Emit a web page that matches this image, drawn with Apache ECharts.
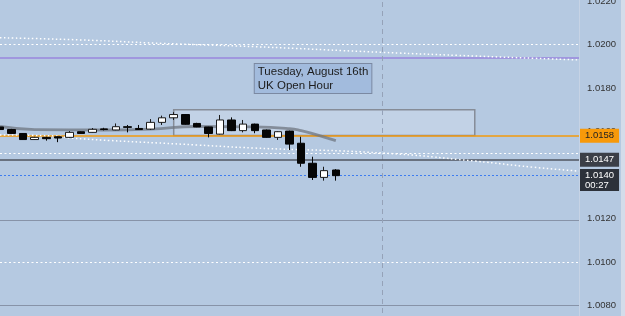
<!DOCTYPE html>
<html>
<head>
<meta charset="utf-8">
<script src="https://cdn.jsdelivr.net/npm/echarts@6/dist/echarts.min.js"></script>
<style>
  html, body { margin: 0; padding: 0; background: #b5c9e1; }
  #chart { width: 625px; height: 316px; }
</style>
</head>
<body>
<div id="chart"></div>
<script>
  // slots on the (hidden) time axis, candles fill the first 30
  const categories = Array.from({ length: 51 }, (_, i) => 'bar' + i);

  const candleOpen = [1.01621, 1.01609, 1.01591, 1.01563, 1.01573, 1.01576, 1.01573, 1.01599, 1.01596, 1.01612,
    1.01607, 1.01622, 1.01614, 1.01611, 1.01642, 1.01663, 1.01678, 1.01637, 1.01621, 1.01588,
    1.01653, 1.01604, 1.01634, 1.01607, 1.01573, 1.01602, 1.01546, 1.01454, 1.01389, 1.01423];
  const candleClose = [1.01609, 1.01591, 1.01563, 1.01573, 1.01567, 1.01570, 1.01596, 1.01591, 1.01610, 1.01609,
    1.01622, 1.01619, 1.01609, 1.01642, 1.01663, 1.01678, 1.01633, 1.01621, 1.01591, 1.01653,
    1.01604, 1.01634, 1.01604, 1.01573, 1.01599, 1.01542, 1.01454, 1.01389, 1.01420, 1.01397];
  const candleLow = [1.01605, 1.01589, 1.01561, 1.01561, 1.01558, 1.01551, 1.01571, 1.01589, 1.01595, 1.01605,
    1.01606, 1.01596, 1.01608, 1.01607, 1.01630, 1.01653, 1.01631, 1.01620, 1.01573, 1.01586,
    1.01602, 1.01596, 1.01592, 1.01571, 1.01561, 1.01515, 1.01438, 1.01377, 1.01374, 1.01374];
  const candleHigh = [1.01630, 1.01612, 1.01593, 1.01576, 1.01576, 1.01578, 1.01602, 1.01601, 1.01616, 1.01617,
    1.01637, 1.01630, 1.01630, 1.01657, 1.01673, 1.01689, 1.01680, 1.01640, 1.01622, 1.01676,
    1.01665, 1.01653, 1.01636, 1.01609, 1.01601, 1.01604, 1.01576, 1.01484, 1.01438, 1.01427];

  // moving averages, read at a few slots: [slot, price]
  const maGray = [[0, 1.01623], [3, 1.01609], [9, 1.01607], [13, 1.01611], [17, 1.01623], [22, 1.01621],
    [25, 1.01613], [26, 1.01604], [27, 1.01590], [28, 1.01574], [29, 1.01558]];
  const maUpper = [[0, 1.02031], [7, 1.02021], [14, 1.02005], [22, 1.01990], [33, 1.01964], [41, 1.01947], [50, 1.01929]];
  const maLower = [[0, 1.01584], [5, 1.01579], [6, 1.01570], [17, 1.01538], [22, 1.01524], [33, 1.01501],
    [41, 1.01464], [46, 1.01436], [50, 1.01418]];

  // horizontal levels
  const dottedLevels = [1.0200, 1.0150, 1.0100];
  const grayLevels = [1.0119, 1.0080];
  const purpleLevel = 1.01939;
  const orangeLevel = 1.0158;
  const prevCloseLevel = 1.0147;
  const lastPrice = 1.0140;
  const countdown = '00:27';

  const sessionBox = [[15, 1.0170], [41, 1.01582]];
  const sessionSlot = 33;
  const noteSlot = 22;
  const notePrice = 1.0191;
  const noteText = 'Tuesday, August 16th\nUK Open Hour';

  const candleData = candleOpen.map((o, i) => [o, candleClose[i], candleLow[i], candleHigh[i]]);

  const font = 'Liberation Sans, Arial, sans-serif';
  const tag = (bg, fg, extra) => Object.assign({
    show: true,
    position: 'end',
    distance: 1,
    backgroundColor: bg,
    color: fg,
    fontFamily: font,
    fontSize: 9.5,
    lineHeight: 11,
    padding: [2, 5, 1, 5],
    formatter: p => p.value.toFixed(4)
  }, extra || {});

  const dotted = { color: '#ffffff', type: [2, 2.5], width: 1.2 };
  const grayLine = { color: '#8793a8', type: 'solid', width: 1.2 };
  const levelLines = [
    ...dottedLevels.map(v => ({ yAxis: v, lineStyle: dotted })),
    ...grayLevels.map(v => ({ yAxis: v, lineStyle: grayLine })),
    { yAxis: purpleLevel, lineStyle: { color: '#9a86dc', type: 'solid', width: 1.5 } },
    { xAxis: sessionSlot, lineStyle: { color: '#95a2b8', type: [5, 4], width: 1 } },
    { yAxis: orangeLevel, lineStyle: { color: '#f39a0c', type: 'solid', width: 1.5 }, label: tag('#f7990a', '#222') },
    { yAxis: prevCloseLevel, lineStyle: { color: '#50555f', type: 'solid', width: 1.5 }, label: tag('#3b3f48', '#ffffff') },
    {
      yAxis: lastPrice,
      lineStyle: { color: '#3d7cf0', type: [2, 2], width: 1 },
      label: tag('#2c313a', '#ffffff', {
        offset: [0, 5],
        lineHeight: 10,
        padding: [1, 5, 1, 5],
        formatter: p => p.value.toFixed(4) + '\n' + countdown
      })
    }
  ];

  const chart = echarts.init(document.getElementById('chart'));
  const option = {
    backgroundColor: '#b5c9e1',
    animation: false,
    grid: { left: 0, right: 46, top: -42.5, bottom: -33, outerBoundsMode: 'none', containLabel: false },
    xAxis: {
      type: 'category',
      data: categories,
      boundaryGap: false,
      show: false
    },
    yAxis: {
      type: 'value',
      position: 'right',
      min: 1.0060,
      max: 1.0240,
      interval: 0.002,
      axisLine: { show: true, lineStyle: { color: '#c6d3e5', width: 1 } },
      axisTick: { show: false },
      splitLine: { show: false },
      axisLabel: {
        margin: 8,
        color: '#333',
        fontFamily: font,
        fontSize: 9.5,
        formatter: v => v.toFixed(4)
      }
    },
    graphic: [
      { type: 'rect', right: 0, top: 0, shape: { width: 4, height: 316 }, style: { fill: '#d3dcea' } }
    ],
    series: [
      {
        name: 'MA upper',
        type: 'line',
        z: 2,
        data: maUpper,
        smooth: true,
        symbol: 'none',
        lineStyle: { color: '#ffffff', width: 1.5, type: [1.5, 2.5] }
      },
      {
        name: 'MA lower',
        type: 'line',
        z: 2,
        data: maLower,
        smooth: true,
        symbol: 'none',
        lineStyle: { color: '#ffffff', width: 1.5, type: [1.5, 2.5] }
      },
      {
        name: 'MA',
        type: 'line',
        z: 2,
        data: maGray,
        smooth: true,
        symbol: 'none',
        lineStyle: { color: '#6f7580', width: 2.8, opacity: 0.75 },
        markLine: {
          z: 1,
          silent: true,
          precision: 5,
          symbol: ['none', 'none'],
          label: { show: false },
          data: levelLines
        },
        markArea: {
          z: 1,
          silent: true,
          itemStyle: { color: 'rgba(255,255,255,0.18)', borderColor: '#868c97', borderWidth: 1.5 },
          data: [[{ coord: sessionBox[0] }, { coord: sessionBox[1] }]]
        },
        markPoint: {
          z: 6,
          silent: true,
          symbol: 'rect',
          symbolSize: 0,
          data: [{ coord: [noteSlot, notePrice], value: noteText }],
          label: {
            show: true,
            position: [0, 0],
            align: 'left',
            verticalAlign: 'top',
            formatter: noteText,
            color: '#1c1c1c',
            fontFamily: font,
            fontSize: 11.5,
            lineHeight: 14,
            backgroundColor: '#a2bbdd',
            borderColor: '#7b89a2',
            borderWidth: 1,
            padding: [1, 3, 0, 3]
          }
        }
      },
      {
        name: 'EURUSD',
        type: 'candlestick',
        z: 3,
        data: candleData,
        barWidth: 8,
        itemStyle: {
          color: '#ffffff',
          color0: '#050505',
          borderColor: '#1a1a1a',
          borderColor0: '#050505',
          borderWidth: 1
        }
      }
    ]
  };
  chart.setOption(option);
</script>
</body>
</html>
